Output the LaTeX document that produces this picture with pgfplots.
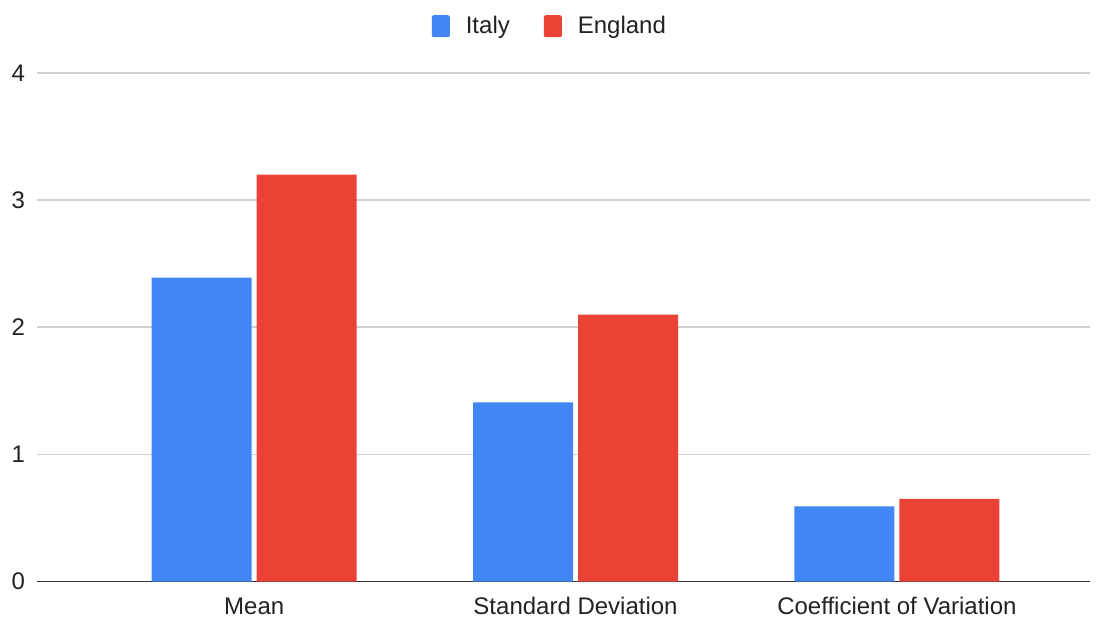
\documentclass[border=0pt]{standalone}
\usepackage{pgfplots}
\pgfplotsset{compat=1.18}
\usepackage{fontspec}
\setmainfont{Liberation Sans}
\definecolor{cItaly}{HTML}{4285F4}
\definecolor{cEngland}{HTML}{EA4335}
\definecolor{gridc}{HTML}{D0D0D0}
\definecolor{txt}{HTML}{222222}
\begin{document}
\begin{tikzpicture}
\useasboundingbox (0,0) rectangle (552.5pt,308.5pt);
\begin{axis}[
  at={(18.5pt,17.75pt)}, anchor=south west,
  scale only axis, width=526.5pt, height=254.25pt,
  ybar=2.5pt, bar width=50pt,
  xmin=-0.676, xmax=2.601, ymin=0, ymax=4,
  xtick=data, xticklabels={Mean,Standard Deviation,Coefficient of Variation},
  ytick={0,1,2,3,4},
  major tick length=0pt,
  ymajorgrids, grid style={gridc, line width=0.8pt},
  axis x line*=bottom, axis y line*=left,
  x axis line style={draw=black!80, line width=0.8pt, -},
  y axis line style={draw=none},
  font=\fontsize{12}{14}\selectfont, 
  tick label style={text=txt, font=\fontsize{12}{14}\selectfont},
  /pgf/number format/assume math mode=true,
  yticklabel style={xshift=-2.5pt},
  xticklabel style={yshift=-4.5pt},
  legend style={at={(0.488,1.092)}, anchor=center, draw=none, legend columns=2,
    font=\fontsize{12}{14}\selectfont, text=txt,
    /tikz/every odd column/.append style={column sep=6pt},
    /tikz/every even column/.append style={column sep=15pt}},
  legend image code/.code={\fill[#1, rounded corners=1pt] (0pt,-5.5pt) rectangle (9pt,5.5pt);},
]
\addplot[fill=cItaly, draw=none] coordinates {(0,2.39) (1,1.41) (2,0.59)};
\addplot[fill=cEngland, draw=none] coordinates {(0,3.20) (1,2.10) (2,0.65)};
\legend{Italy,England}
\end{axis}
\end{tikzpicture}
\end{document}
